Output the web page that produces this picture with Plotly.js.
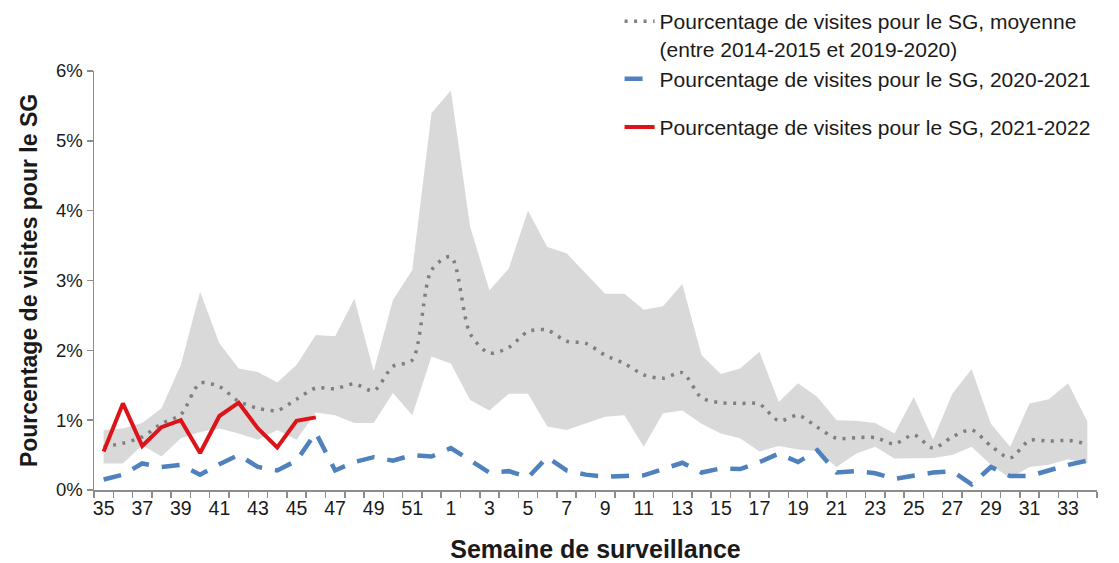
<!DOCTYPE html>
<html>
<head>
<meta charset="utf-8">
<script src="https://cdn.plot.ly/plotly-3.0.1.min.js"></script>
<style>html,body{margin:0;padding:0;background:#fff;}#chart{width:1119px;height:563px;}</style>
</head>
<body>
<div id="chart"></div>
<script>
// Surveillance weeks (season runs from week 35 to week 34)
const weeks = [35,36,37,38,39,40,41,42,43,44,45,46,47,48,49,50,51,52,
               1,2,3,4,5,6,7,8,9,10,11,12,13,14,15,16,17,18,19,20,21,22,23,24,25,26,27,28,29,30,31,32,33,34];

// Historical range (min / max) 2014-2015 to 2019-2020, % of visits
const histMin = [0.38,0.38,0.64,0.48,0.74,0.83,0.88,0.81,0.72,0.86,0.72,1.11,1.07,0.96,0.96,1.39,1.07,1.91,
                 1.81,1.29,1.14,1.38,1.38,0.91,0.86,0.95,1.05,1.07,0.62,1.10,1.14,0.95,0.81,0.74,0.55,0.63,0.58,0.56,0.33,0.52,0.62,0.45,0.46,0.46,0.50,0.62,0.36,0.17,0.33,0.36,0.44,0.38];
const histMax = [0.86,0.88,0.96,1.17,1.79,2.84,2.10,1.74,1.69,1.54,1.79,2.22,2.20,2.74,1.70,2.72,3.15,5.40,
                 5.72,3.77,2.86,3.17,4.00,3.48,3.39,3.10,2.81,2.81,2.58,2.63,2.95,1.93,1.66,1.74,1.98,1.26,1.53,1.33,1.00,0.99,0.96,0.81,1.33,0.72,1.38,1.73,0.95,0.62,1.24,1.30,1.53,0.98];

// Average 2014-2015 to 2019-2020
const avgPct = [0.62,0.67,0.76,0.95,1.08,1.53,1.48,1.27,1.17,1.14,1.30,1.46,1.45,1.52,1.42,1.77,1.86,3.15,
                3.34,2.24,1.96,2.04,2.27,2.29,2.13,2.10,1.93,1.81,1.65,1.60,1.68,1.32,1.25,1.24,1.23,0.99,1.07,0.90,0.74,0.75,0.75,0.66,0.79,0.60,0.76,0.86,0.63,0.46,0.71,0.70,0.71,0.66];

// Season 2020-2021
const s2021 = [0.15,0.22,0.38,0.33,0.36,0.22,0.37,0.50,0.33,0.28,0.42,0.82,0.28,0.40,0.47,0.42,0.50,0.48,
               0.60,0.43,0.25,0.27,0.18,0.47,0.28,0.22,0.19,0.20,0.21,0.30,0.39,0.25,0.31,0.30,0.40,0.52,0.40,0.57,0.25,0.27,0.24,0.16,0.21,0.25,0.27,0.08,0.33,0.20,0.20,0.28,0.36,0.42];

// Season 2021-2022 (weeks 35 to 46)
const s2122 = [0.55,1.24,0.63,0.90,1.00,0.53,1.06,1.25,0.88,0.61,0.99,1.04];

const labels = {
  avg: "Pourcentage de visites pour le SG, moyenne<br>(entre 2014-2015 et 2019-2020)",
  s2021: "Pourcentage de visites pour le SG, 2020-2021",
  s2122: "Pourcentage de visites pour le SG, 2021-2022"
};
const xTitle = "Semaine de surveillance";
const yTitle = "Pourcentage de visites pour le SG";

const idx = weeks.map((w, i) => i);
const tickIdx = idx.filter(i => i % 2 === 0);
const tickTxt = tickIdx.map(i => String(weeks[i]));

const traces = [
  {x: idx, y: histMin, type: 'scatter', mode: 'lines', line: {width: 0, color: 'rgba(0,0,0,0)'},
   showlegend: false, hoverinfo: 'skip'},
  {x: idx, y: histMax, type: 'scatter', mode: 'lines', line: {width: 0, color: 'rgba(0,0,0,0)'},
   fill: 'tonexty', fillcolor: '#d9d9d9', showlegend: false, hoverinfo: 'skip'},
  {x: idx, y: avgPct, type: 'scatter', mode: 'lines', name: labels.avg, legendgroup: 'a',
   line: {color: '#7f7f7f', width: 3.5, dash: '3px,6.5px', shape: 'spline', smoothing: 0.8}},
  {x: idx, y: s2021, type: 'scatter', mode: 'lines', name: labels.s2021, legendgroup: 'a',
   line: {color: '#4f81bd', width: 4.5, dash: '18px,13px'}},
  {x: idx.slice(0, s2122.length), y: s2122, type: 'scatter', mode: 'lines', name: labels.s2122, legendgroup: 'b',
   line: {color: '#dc1419', width: 4}}
];

const txtColor = '#1a1a1a';
const layout = {
  width: 1119, height: 563,
  margin: {l: 94, r: 22, t: 71, b: 73, autoexpand: false},
  paper_bgcolor: '#ffffff', plot_bgcolor: '#ffffff',
  font: {family: 'Liberation Sans, Arial, sans-serif', color: txtColor, size: 18},
  showlegend: true,
  legend: {
    x: 0.524, xanchor: 'left', y: 1.167, yanchor: 'top',
    bgcolor: 'rgba(0,0,0,0)', font: {size: 21, color: txtColor},
    tracegroupgap: 18, valign: 'top', traceorder: 'grouped'
  },
  xaxis: {
    range: [-0.5, 51.5], tickmode: 'array', tickvals: tickIdx, ticktext: tickTxt,
    ticks: '', showgrid: false, zeroline: false,
    showline: true, linecolor: '#8c8c8c', linewidth: 1.5,
    tickfont: {size: 19.5, color: txtColor},
    minor: {tick0: -0.5, dtick: 1, ticks: 'outside', ticklen: 6, tickcolor: '#8c8c8c', tickwidth: 1.5, showgrid: false},
    title: {text: xTitle, font: {size: 25, color: txtColor, weight: 'bold'}, standoff: 24}
  },
  yaxis: {
    range: [0, 6], dtick: 1, tick0: 0, ticksuffix: '%',
    ticks: 'outside', ticklen: 6, tickcolor: '#8c8c8c', tickwidth: 1.5,
    showgrid: false, zeroline: false,
    showline: true, linecolor: '#8c8c8c', linewidth: 1.5,
    tickfont: {size: 18.5, color: txtColor},
    title: {text: yTitle, font: {size: 23, color: txtColor, weight: 'bold'}, standoff: 12}
  }
};

Plotly.newPlot('chart', traces, layout, {displayModeBar: false, staticPlot: true});
</script>
</body>
</html>
